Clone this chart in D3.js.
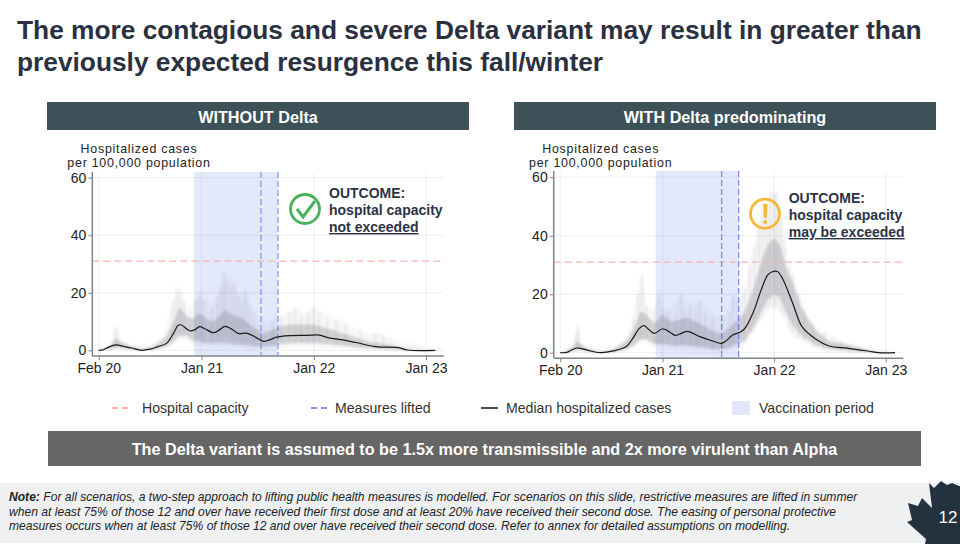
<!DOCTYPE html>
<html><head><meta charset="utf-8">
<script src="https://cdnjs.cloudflare.com/ajax/libs/d3/7.8.5/d3.min.js"></script>
<style>
html,body{margin:0;padding:0;background:#fff;overflow:hidden}
svg{display:block}
text{font-family:"Liberation Sans",Arial,sans-serif}
</style></head><body>
<svg id="c" width="960" height="544"></svg>
<script>
// ---------- text ----------
const titleLines = ["The more contagious and severe Delta variant may result in greater than","previously expected resurgence this fall/winter"];
const panelTitles = ["WITHOUT Delta","WITH Delta predominating"];
const yLabelLines = ["Hospitalized cases","per 100,000 population"];
const yTicks = [0,20,40,60];
const xTickMonths = [0,11,23,35];           // months since Feb 2020
const xTickLabels = ["Feb 20","Jan 21","Jan 22","Jan 23"];
const capacity = 31;
const banner = "The Delta variant is assumed to be 1.5x more transmissible and 2x more virulent than Alpha";
const legendLabels = ["Hospital capacity","Measures lifted","Median hospitalized cases","Vaccination period"];
const noteLines = ["For all scenarios, a two-step approach to lifting public health measures is modelled. For scenarios on this slide, restrictive measures are lifted in summer",
"when at least 75% of those 12 and over have received their first dose and at least 20% have received their second dose. The easing of personal protective",
"measures occurs when at least 75% of those 12 and over have received their second dose. Refer to annex for detailed assumptions on modelling."];

// ---------- left panel (month, value) ----------
const medianA = [[0,0],[.5,.2],[1,1],[1.85,1.9],[2.6,1.4],[3.5,.8],[4.6,0],[5.5,.4],[6.35,1.3],[7.25,2.4],[8,5.9],[8.5,8.7],[8.85,8.8],[9.7,6.8],[10.2,7],[10.8,8.2],[11.3,7.6],[12.3,6.1],[12.9,7.1],[13.5,8.3],[14.2,7.4],[14.9,5.9],[15.9,5.9],[16.8,4.5],[17.6,3.1],[18.25,3.6],[18.95,4.5],[20.4,5.1],[22.15,5.2],[23.6,5.3],[24.6,4.3],[25.9,3.7],[27.5,2.7],[29.6,1.3],[32.1,.9],[33,.1],[36,0]];
const outerA = [[0,.3,0],[1,1.5,0],[1.5,4,0],[1.85,9,.4],[2.2,4,.3],[3,2.5,.1],[4,1.5,0],[5,1.5,0],[6,3,.2],[7,6,.6],[7.6,14,1.5],[8.3,20,3],[8.8,22,4],[9.4,14,3.5],[10,16,2],[10.7,19,1.5],[11.3,18,1.5],[12,15,1.2],[12.7,19,1.2],[13.4,27,1],[13.9,25,1],[14.5,23,.8],[15,19,.8],[15.7,21,.6],[16.5,14,.6],[17.2,11,.4],[18,10,.5],[19,12,.8],[20,13,1],[21,15,1],[22,13,1.2],[23,15,1.2],[24,13,1],[25,11,.8],[26,10.5,.7],[27,8,.5],[28,7,.3],[29,6,.2],[30,6,.1],[31,4.5,.1],[32,3.5,0],[33,2.5,0],[34,2,0],[35,.8,0],[36,.3,0]];
const innerA = [[0,.1,0],[1,1,.2],[1.85,4,.9],[2.6,2.5,.6],[3.5,1.4,.3],[4.6,.5,0],[5.5,1,.1],[6.35,2.4,.5],[7.25,5,1.2],[8,10,3],[8.6,15,5],[9.4,12,5],[10,11,3.5],[10.8,13,3],[11.5,11,2.5],[12.3,10,2.5],[13.5,14,2.5],[14.5,12,2],[15.5,11,1.8],[16.5,8,1.5],[17.6,6,1.2],[18.5,7,1.5],[19.5,8.5,2.2],[21,9,2.5],[23,9,2.5],[24,8,2.3],[25.5,6.5,1.8],[27,5,1.2],[29,3,.6],[31,2,.3],[33,.6,0],[36,0,0]];
const wispsA = [[1.7,1,8],[2,1,7],[7.9,4,17],[8.3,6,22],[8.7,6,20],[9.1,6,17],[10.4,4,17],[10.8,4,20],[11.2,3,17],[12.1,3,15],[12.7,4,19],[13.1,4,22],[13.4,5,27],[13.7,5,24],[14.1,4,22],[14.5,3,24],[14.9,3,19],[15.3,3,17],[15.7,3,21],[16.1,3,15],[16.6,2,13],[18.6,2,10],[19.5,3,12],[20.4,3,13],[21,3,15],[21.6,3,12],[22.4,3,13],[23,3,15],[23.6,3,13],[24.4,3,11],[25.4,2,11],[26.4,2,9],[28,1,7],[29.6,1,6],[30.4,1,5]];

// ---------- right panel (month, value) ----------
const medianB = [[0,0],[.7,.1],[1.2,.9],[1.75,1.6],[2.3,1.4],[3.35,.5],[4.4,0],[5.7,.6],[7.1,2.1],[7.8,4.9],[8.5,8.3],[9,9.3],[9.4,8.3],[10.1,6.6],[11,8.2],[11.75,7.1],[12.35,5.9],[12.8,6.3],[13.65,7.3],[15,5.5],[16.4,4],[17.3,3.2],[17.8,4],[18.5,6],[19.25,6.9],[19.8,8.1],[20.7,13.4],[21.6,21.4],[22.3,26.5],[22.8,27.7],[23.35,27.8],[23.9,25.4],[25,16.9],[26,8.9],[27.5,4.6],[28.9,2.3],[31,1.5],[33.2,.5],[34.25,0],[36,0]];
const outerB = [[0,.3,0],[1,1.5,0],[1.6,5,.4],[1.9,9,.5],[2.4,3,.3],[3,1.5,.1],[4,1,0],[5,1.5,0],[6,2.5,.2],[7,5,.7],[7.6,10,1.5],[8.3,20,3],[8.8,27,4],[9.3,16,3.5],[10,14,2],[10.6,20,1.5],[11.3,15,1.5],[12,15,1.2],[13,20,1],[14,16,.8],[15,18,.6],[16,14,.5],[16.8,12,.4],[17.5,12,.4],[18,14,1],[18.6,20,1.5],[19.2,18,2],[19.8,22,3],[20.6,33,6],[21.4,45,10],[22,50,13],[22.7,55,15],[23.3,55,15],[23.9,44,13],[24.5,30,9],[25,27,6],[25.6,20,4.5],[26.5,13,3],[27.5,9,1.5],[28.5,7,.8],[29.5,5,.4],[30.5,4,.2],[31.5,3,.1],[33,1.5,0],[34,1,0],[36,.2,0]];
const innerB = [[0,.1,0],[1.2,1.6,.4],[1.85,4,1],[2.6,2,.6],[3.5,1,.2],[4.6,.4,0],[5.7,1.2,.2],[7.1,4,1],[7.9,8,2.5],[8.6,14,4.5],[9.3,13,4.5],[10.1,10,3],[11,13,3],[12,10.5,2.5],[13.6,12,2.5],[15,10,2],[16.4,7.5,1.3],[17.3,6.5,1],[18,8,1.5],[19,11,3],[19.8,14,4],[20.7,21,8],[21.6,31,14],[22.3,37,18],[23,39,20],[23.6,37,19],[24.4,28,13],[25,24,9.5],[26,15,5.5],[27.5,7.5,2.6],[28.9,4,1.2],[31,2.7,.6],[33,1,.1],[34.2,.3,0],[36,0,0]];
const wispsB = [[1.7,1,7],[1.9,1,9],[7.9,4,12],[8.4,5,20],[8.8,5,27],[9.2,5,16],[10.2,3,15],[10.6,3,20],[11,3,15],[11.6,3,14],[12.4,2,13],[13,3,20],[13.4,3,15],[14,2,16],[14.6,2,15],[15,2,18],[15.6,2,14],[16.4,1,12],[17.4,1,12],[18.2,2,14],[18.6,3,20],[19.2,3,18],[19.8,4,22],[20.4,7,30],[20.9,9,36],[21.4,11,45],[21.8,13,48],[22.2,15,50],[22.6,16,55],[23,16,54],[23.3,16,55],[23.7,14,47],[24.1,12,38],[24.6,8,30],[25,7,27],[25.6,5,20],[26.2,4,15],[27.2,2,10],[28.4,1,7],[30.2,.5,4]];

// ---------- drawing ----------
const svg = d3.select("#c");
const DARK = "#3d5158", INK = "#2b3347";

svg.append("defs").append("filter").attr("id","soft")
  .attr("x","-5%").attr("y","-5%").attr("width","110%").attr("height","110%")
  .append("feGaussianBlur").attr("stdDeviation",1);

svg.selectAll("text.t").data(titleLines).join("text").attr("class","t")
  .attr("x",17).attr("y",(d,i)=>39+i*32).attr("font-size",26.3).attr("font-weight","bold").attr("fill","#2a3040").text(d=>d);

const panels = [
 {barX:47,barW:422,axisX:92.3,x0:98.7,x35:426,y0:350.3,y60:177.7,top:172,bottom:356,right:444,median:medianA,outer:outerA,inner:innerA,wisps:wispsA,vacc:[194,278],lift:[261,278],labelCx:139,title:panelTitles[0],liftOp:.55,liftW:1.6},
 {barX:514,barW:422,axisX:553.7,x0:560.3,x35:885.7,y0:352.7,y60:177.3,top:171,bottom:358.3,right:903.3,median:medianB,outer:outerB,inner:innerB,wisps:wispsB,vacc:[655.7,738.7],lift:[721.7,738.7],labelCx:600.7,title:panelTitles[1],liftOp:.9,liftW:1.1}
];

panels.forEach(p=>{
  svg.append("rect").attr("x",p.barX).attr("y",102).attr("width",p.barW).attr("height",28).attr("fill",DARK);
  svg.append("text").attr("x",p.barX+p.barW/2).attr("y",122.5).attr("text-anchor","middle").attr("font-size",16.2).attr("font-weight","bold").attr("fill","#fff").text(p.title);

  const x = d3.scaleLinear().domain([0,35]).range([p.x0,p.x35]);
  const y = d3.scaleLinear().domain([0,60]).range([p.y0,p.y60]);
  const g = svg.append("g");

  // vaccination period
  g.append("rect").attr("x",p.vacc[0]).attr("y",p.top).attr("width",p.vacc[1]-p.vacc[0]).attr("height",p.bottom-p.top).attr("fill","#e3e8fb");

  // grid
  g.selectAll("line.gy").data(yTicks).join("line").attr("x1",p.axisX).attr("x2",p.right).attr("y1",d=>y(d)).attr("y2",d=>y(d)).attr("stroke","#8a8f9a").attr("stroke-opacity",.14);
  g.selectAll("line.gx").data(xTickMonths).join("line").attr("x1",d=>x(d)).attr("x2",d=>x(d)).attr("y1",p.top).attr("y2",p.bottom).attr("stroke","#8a8f9a").attr("stroke-opacity",.14);

  // ensemble cloud
  const cloud = g.append("g").attr("filter","url(#soft)");
  const band = d3.area().x(d=>x(d[0])).y0(d=>y(d[2])).y1(d=>y(d[1])).curve(d3.curveLinear);
  cloud.append("path").attr("d",band(p.outer)).attr("fill","#6a6e78").attr("opacity",.06);
  cloud.append("path").attr("d",band(p.inner)).attr("fill","#5a5e68").attr("opacity",.24);
  cloud.selectAll("line.w").data(p.wisps).join("line")
    .attr("x1",d=>x(d[0])).attr("x2",d=>x(d[0])).attr("y1",d=>y(d[1])).attr("y2",d=>y(d[2]))
    .attr("stroke","#5a5e68").attr("stroke-width",1.5).attr("stroke-opacity",.13);

  // capacity and lifted
  g.append("line").attr("x1",p.axisX).attr("x2",p.right).attr("y1",y(capacity)).attr("y2",y(capacity)).attr("stroke","#f4b4b0").attr("stroke-width",1.3).attr("stroke-dasharray","7 4");
  g.selectAll("line.l").data(p.lift).join("line").attr("x1",d=>d).attr("x2",d=>d).attr("y1",p.top).attr("y2",p.bottom).attr("stroke","#5b6ff0").attr("stroke-opacity",p.liftOp).attr("stroke-width",p.liftW).attr("stroke-dasharray","6 3");

  // median
  g.append("path").attr("d",d3.line().x(d=>x(d[0])).y(d=>y(d[1])).curve(d3.curveCatmullRom.alpha(0.5))(p.median)).attr("fill","none").attr("stroke","#1a1a1a").attr("stroke-width",1.2);

  // axes
  const ay = g.append("g").attr("transform",`translate(${p.axisX},0)`).call(d3.axisLeft(y).tickValues(yTicks).tickSize(4).tickPadding(2));
  ay.select(".domain").attr("d",`M0,${p.top}V${p.bottom}`).attr("stroke","#808488").attr("stroke-width",1.5);
  const ax = g.append("g").attr("transform",`translate(0,${p.bottom})`).call(d3.axisBottom(x).tickValues(xTickMonths).tickFormat((d,i)=>xTickLabels[i]).tickSize(4).tickPadding(3));
  ax.select(".domain").attr("d",`M${p.axisX},0H${p.right}`).attr("stroke","#808488").attr("stroke-width",1.5);
  g.selectAll(".tick line").attr("stroke","#808488");
  g.selectAll(".tick text").attr("font-size",14).attr("font-family",'"Liberation Sans",Arial,sans-serif').attr("fill","#222");

  g.selectAll("text.yl").data(yLabelLines).join("text").attr("class","yl").attr("x",p.labelCx).attr("y",(d,i)=>153+i*14).attr("text-anchor","middle").attr("font-size",12.4).attr("letter-spacing",.75).attr("fill","#222").text(d=>d);
});

// outcome callouts
function outcome(tx, by, third){
  ["OUTCOME:","hospital capacity",third].forEach((s,i)=>{
    svg.append("text").attr("x",tx).attr("y",by+i*17).attr("font-size",14).attr("font-weight","bold").attr("fill",INK)
      .attr("text-decoration",i===2?"underline":null).text(s);
  });
}
outcome(329,198,"not exceeded");
outcome(788.7,203,"may be exceeded");

svg.append("circle").attr("cx",305).attr("cy",209).attr("r",14.5).attr("fill","none").attr("stroke","#4caf5a").attr("stroke-width",2.8);
svg.append("path").attr("d","M297 209 L303 217 L315 201").attr("fill","none").attr("stroke","#4caf5a").attr("stroke-width",3);
svg.append("circle").attr("cx",765).attr("cy",213.7).attr("r",14.5).attr("fill","none").attr("stroke","#f5b83d").attr("stroke-width",2.8);
svg.append("path").attr("d","M763 204 H767.5 L766.5 218 H764 Z").attr("fill","#f5b83d");
svg.append("circle").attr("cx",765.2).attr("cy",222).attr("r",2).attr("fill","#f5b83d");

// legend
const ly = 408;
svg.append("line").attr("x1",112).attr("x2",132).attr("y1",ly).attr("y2",ly).attr("stroke","#ef8f88").attr("stroke-width",1.3).attr("stroke-dasharray","6 4");
svg.append("line").attr("x1",311).attr("x2",331).attr("y1",ly).attr("y2",ly).attr("stroke","#5b6ff0").attr("stroke-width",1.3).attr("stroke-dasharray","6 4");
svg.append("line").attr("x1",481).attr("x2",498).attr("y1",ly).attr("y2",ly).attr("stroke","#111").attr("stroke-width",1.5);
svg.append("rect").attr("x",732).attr("y",401).attr("width",18).attr("height",14).attr("fill","#e1e6fa");
[142,335,506,759].forEach((lx,i)=>svg.append("text").attr("x",lx).attr("y",ly+5).attr("font-size",14.1).attr("fill","#333").text(legendLabels[i]));

// banner
svg.append("rect").attr("x",48).attr("y",431).attr("width",873).attr("height",35).attr("fill","#666");
svg.append("text").attr("x",484.5).attr("y",454.5).attr("text-anchor","middle").attr("font-size",16.2).attr("font-weight","bold").attr("fill","#fff").text(banner);

// footer
svg.append("rect").attr("x",0).attr("y",483).attr("width",960).attr("height",60).attr("fill","#eef0f2");
noteLines.forEach((s,i)=>{
  const t = svg.append("text").attr("x",9).attr("y",501+i*14.6).attr("font-size",12.1).attr("font-style","italic").attr("fill","#222");
  if(i===0){ t.append("tspan").attr("font-weight","bold").text("Note: "); }
  t.append("tspan").text(s);
});
svg.append("path").attr("d","M929 483 L934 488 L941 481 L947 485 L952 483 L959 486 L960 486 L960 544 L925 544 L926 539 L907 522 L912 520 L908 503 L918 506 L922 498 L932 508 Z").attr("fill","#243240");
svg.append("text").attr("x",948).attr("y",523).attr("text-anchor","middle").attr("font-size",17).attr("fill","#fff").text("12");
</script>
</body></html>
